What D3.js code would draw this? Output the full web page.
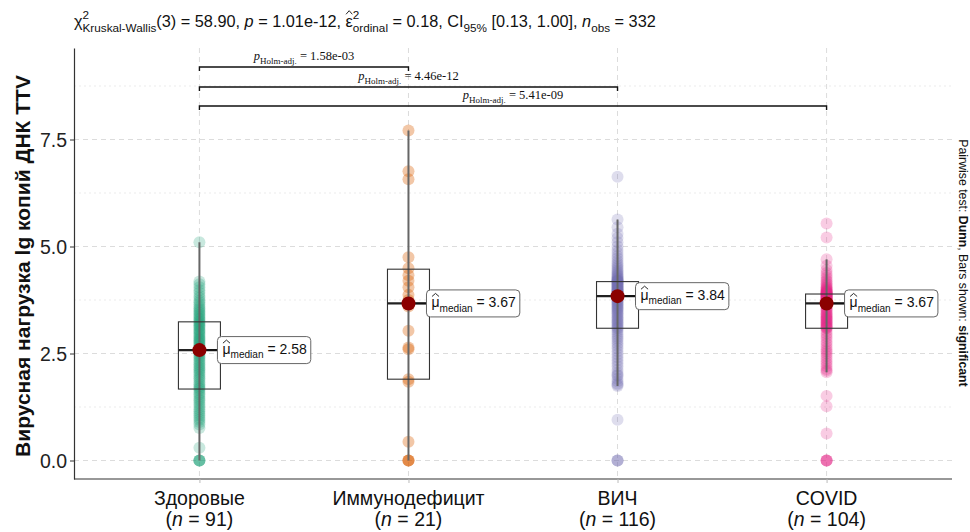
<!DOCTYPE html>
<html>
<head>
<meta charset="utf-8">
<script src="https://cdn.jsdelivr.net/npm/d3@7"></script>
<style>
  body { margin: 0; background: #fff; }
  text { font-family: "Liberation Sans", Arial, sans-serif; white-space: pre; }
</style>
</head>
<body>
<svg id="chart" width="970" height="532"></svg>
<script>
const groups = ['Здоровые', 'Иммунодефицит', 'ВИЧ', 'COVID'];
const nObs = [91, 21, 116, 104];
const colors = ['#1B9E77', '#D95F02', '#7570B3', '#E7298A'];

// box stats
const q1 = [1.67, 1.90, 3.09, 3.09];
const medians = [2.58, 3.67, 3.84, 3.67];
const q3 = [3.24, 4.47, 4.18, 3.89];
const whiskerLo = [0, 0, 1.74, 2.06];
const whiskerHi = [5.10, 7.71, 5.63, 4.70];

const healthy = [5.10, 4.18, 4.12, 4.05, 3.98, 3.92, 3.85, 3.80, 3.74, 3.70, 3.65, 3.60, 3.56, 3.52, 3.48, 3.45, 3.41, 3.38, 3.34, 3.31, 3.28, 3.25,
  3.22, 3.19, 3.16, 3.13, 3.10, 3.06, 3.03, 3.00, 2.97, 2.94, 2.90, 2.87, 2.84, 2.81, 2.78, 2.75, 2.72, 2.69, 2.66, 2.63, 2.61, 2.59,
  2.58,
  2.55, 2.52, 2.49, 2.45, 2.41, 2.37, 2.33, 2.29, 2.25, 2.21, 2.17, 2.13, 2.09, 2.05, 2.01, 1.96, 1.92, 1.88, 1.83, 1.78, 1.74, 1.70,
  1.67, 1.63, 1.58, 1.54, 1.49, 1.44, 1.40, 1.35, 1.30, 1.25, 1.20, 1.15, 1.10, 1.05, 1.00, 0.95, 0.90, 0.84, 0.76, 0.30, 0, 0, 0, 0];
const immuno = [7.71, 6.76, 6.57, 4.75, 4.49, 4.33, 4.20, 4.05, 3.87, 3.75, 3.67, 3.60, 3.03, 2.64, 2.60, 1.90, 1.84, 0.44, 0, 0, 0];
const hiv = [6.63, 5.63, 5.45, 5.30, 5.20, 5.10, 5.00, 4.92, 4.85, 4.78, 4.72, 4.66, 4.61, 4.56, 4.52, 4.48, 4.44, 4.41, 4.38, 4.35, 4.32, 4.30, 4.28, 4.26, 4.24, 4.22, 4.21, 4.20, 4.19,
  4.18, 4.17, 4.15, 4.14, 4.12, 4.11, 4.10, 4.08, 4.07, 4.05, 4.04, 4.02, 4.01, 4.00, 3.98, 3.97, 3.96, 3.95, 3.93, 3.92, 3.91, 3.90, 3.89, 3.88, 3.87, 3.86, 3.85, 3.85, 3.84,
  3.84, 3.82, 3.80, 3.78, 3.76, 3.74, 3.72, 3.70, 3.67, 3.65, 3.62, 3.60, 3.57, 3.55, 3.52, 3.50, 3.47, 3.44, 3.41, 3.38, 3.35, 3.32, 3.29, 3.26, 3.23, 3.20, 3.17, 3.14, 3.11,
  3.09, 3.05, 3.00, 2.95, 2.90, 2.85, 2.80, 2.74, 2.68, 2.62, 2.55, 2.48, 2.41, 2.34, 2.27, 2.20, 2.12, 2.05, 2.00, 1.98, 1.91, 1.85, 1.80, 1.77, 1.74, 0.95, 0, 0, 0];
const covid = [5.54, 5.21, 4.70, 4.55, 4.45, 4.38, 4.32, 4.27, 4.22, 4.18, 4.14, 4.11, 4.08, 4.05, 4.03, 4.01, 3.99, 3.97, 3.96, 3.95, 3.94, 3.93, 3.92, 3.91, 3.90, 3.89,
  3.89, 3.88, 3.87, 3.86, 3.85, 3.84, 3.83, 3.82, 3.81, 3.80, 3.79, 3.78, 3.77, 3.76, 3.75, 3.74, 3.73, 3.72, 3.71, 3.70, 3.70, 3.69, 3.69, 3.68, 3.68, 3.67,
  3.67, 3.64, 3.61, 3.58, 3.55, 3.52, 3.50, 3.47, 3.44, 3.42, 3.40, 3.37, 3.35, 3.33, 3.31, 3.29, 3.27, 3.25, 3.23, 3.21, 3.19, 3.17, 3.15, 3.13, 3.11, 3.10,
  3.09, 3.03, 2.97, 2.91, 2.85, 2.78, 2.72, 2.66, 2.60, 2.55, 2.50, 2.44, 2.38, 2.32, 2.26, 2.20, 2.14, 2.10, 2.06, 1.51, 1.27, 0.63, 0, 0, 0, 0];
const points = [healthy, immuno, hiv, covid];

const pairs = [[0, 1], [0, 2], [0, 3]];
const pairP = ['1.58e-03', '4.46e-12', '5.41e-09'];
const yTicks = [0, 2.5, 5, 7.5];
const yMinor = [1.25, 3.75, 6.25, 8.75];

const svg = d3.select('#chart');
const margin = {top: 48, right: 18, bottom: 53, left: 74};
const W = 970, H = 532;

const x = d3.scalePoint().domain(groups).range([margin.left, W - margin.right]).padding(0.6);
const y = d3.scaleLinear().domain([-0.432, 9.638]).range([H - margin.bottom, margin.top]);

// lay out text pieces with sub/superscripts one after another
const richText = (parent, parts, size, family) => {
  const g = parent.append('g');
  let cx = 0, stackW = 0;
  parts.forEach((p) => {
    const s = (p.sub || p.sup) ? size * 0.72 : size;
    const dy = p.sub ? size * 0.3 : p.sup ? -size * 0.5 : 0;
    const t = g.append('text')
      .attr('x', cx).attr('y', dy)
      .attr('font-size', s)
      .attr('font-style', p.it ? 'italic' : null)
      .attr('font-weight', p.b ? 'bold' : null)
      .attr('fill', '#111')
      .text(p.t);
    if (family) t.style('font-family', family);
    const w = t.node().getComputedTextLength();
    if (p.hat) {
      g.append('path')
        .attr('d', `M${cx + 0.5},${-s * 0.78}L${cx + w / 2},${-s * 1.0}L${cx + w - 0.5},${-s * 0.78}`)
        .attr('fill', 'none').attr('stroke', '#111').attr('stroke-width', 0.9);
    }
    if (p.stack) { stackW = w; } else { cx += Math.max(w, stackW); stackW = 0; }
  });
  return {g, width: cx};
};

// grid
const grid = svg.append('g');
grid.selectAll('.gmaj').data(yTicks).join('line')
  .attr('x1', margin.left).attr('x2', W - margin.right)
  .attr('y1', (d) => y(d)).attr('y2', (d) => y(d))
  .attr('stroke', '#dcdcdc').attr('stroke-dasharray', '5,4');
grid.selectAll('.gmin').data(yMinor).join('line')
  .attr('x1', margin.left).attr('x2', W - margin.right)
  .attr('y1', (d) => y(d)).attr('y2', (d) => y(d))
  .attr('stroke', '#e6e6e6').attr('stroke-width', 0.8).attr('stroke-dasharray', '2,3');
grid.selectAll('.gv').data(groups).join('line')
  .attr('x1', (d) => x(d)).attr('x2', (d) => x(d))
  .attr('y1', margin.top).attr('y2', H - margin.bottom)
  .attr('stroke', '#dcdcdc').attr('stroke-dasharray', '5,4');

// points
groups.forEach((gname, i) => {
  svg.append('g').selectAll('circle').data(points[i]).join('circle')
    .attr('cx', x(gname))
    .attr('cy', (d) => y(d))
    .attr('r', 6)
    .attr('fill', colors[i])
    .attr('fill-opacity', i === 1 ? 0.35 : 0.24);
});

// boxes
const bw = 42;
groups.forEach((gname, i) => {
  const cx = x(gname);
  const g = svg.append('g');
  g.append('line')
    .attr('x1', cx).attr('x2', cx)
    .attr('y1', y(whiskerLo[i])).attr('y2', y(whiskerHi[i]))
    .attr('stroke', '#666').attr('stroke-width', 2);
  g.append('rect')
    .attr('x', cx - bw / 2).attr('width', bw)
    .attr('y', y(q3[i])).attr('height', y(q1[i]) - y(q3[i]))
    .attr('fill', 'none').attr('stroke', '#333').attr('stroke-width', 1.1);
  g.append('line')
    .attr('x1', cx - bw / 2).attr('x2', cx + bw / 2)
    .attr('y1', y(medians[i])).attr('y2', y(medians[i]))
    .attr('stroke', '#222').attr('stroke-width', 2.2);
});

// median dots + labels
groups.forEach((gname, i) => {
  const cx = x(gname);
  const cy = y(medians[i]);
  const lx = cx + 18;
  svg.append('line')
    .attr('x1', cx).attr('x2', lx).attr('y1', cy).attr('y2', cy)
    .attr('stroke', '#111').attr('stroke-width', 1.6);
  svg.append('circle')
    .attr('cx', cx).attr('cy', cy).attr('r', 7)
    .attr('fill', '#8B0000');
  const lab = svg.append('g');
  const bg = lab.append('rect');
  const rt = richText(lab, [
    {t: 'μ', hat: true},
    {t: 'median', sub: true},
    {t: ' = ' + medians[i].toFixed(2)}
  ], 14);
  const h = 27;
  rt.g.attr('transform', `translate(${lx + 5},${cy + 4})`);
  bg.attr('x', lx).attr('y', cy - h / 2).attr('width', rt.width + 9).attr('height', h)
    .attr('rx', 4).attr('fill', '#fff').attr('stroke', '#666').attr('stroke-width', 1);
});

// axes
const yAxis = svg.append('g')
  .attr('transform', `translate(${margin.left},0)`)
  .call(d3.axisLeft(y).tickValues(yTicks).tickFormat(d3.format('.1f')).tickSize(4).tickSizeOuter(0));
yAxis.select('.domain').attr('stroke', '#333').attr('stroke-width', 1.2);
yAxis.selectAll('.tick line').attr('stroke', '#333');
yAxis.selectAll('.tick text').attr('font-size', 19.5).attr('fill', '#222')
  .style('font-family', '"Liberation Sans", Arial, sans-serif').attr('x', -7).attr('dy', '0.36em');

const xAxis = svg.append('g')
  .attr('transform', `translate(0,${H - margin.bottom})`)
  .call(d3.axisBottom(x).tickSize(4).tickSizeOuter(0).tickFormat(''));
xAxis.select('.domain').attr('stroke', '#333').attr('stroke-width', 1.2)
  .attr('d', `M${margin.left},0H${W - margin.right}`);
xAxis.selectAll('.tick line').attr('stroke', '#bbb');

groups.forEach((gname, i) => {
  svg.append('text')
    .attr('x', x(gname)).attr('y', 505)
    .attr('text-anchor', 'middle').attr('font-size', 19.5).attr('fill', '#111')
    .text(gname);
  const rt = richText(svg, [
    {t: '('}, {t: 'n', it: true}, {t: ' = ' + nObs[i] + ')'}
  ], 19.5);
  rt.g.attr('transform', `translate(${x(gname) - rt.width / 2},526)`);
});

svg.append('text')
  .attr('transform', `translate(30,266) rotate(-90)`)
  .attr('text-anchor', 'middle').attr('font-size', 21).attr('font-weight', 'bold').attr('fill', '#111')
  .text('Вирусная нагрузка lg копий ДНК TTV');

// significance brackets
const brY = [67, 87, 106];
pairs.forEach((pr, k) => {
  const x1 = x(groups[pr[0]]), x2 = x(groups[pr[1]]);
  svg.append('path')
    .attr('d', `M${x1},${brY[k] + 4}V${brY[k]}H${x2}V${brY[k] + 4}`)
    .attr('fill', 'none').attr('stroke', '#111').attr('stroke-width', 1.4);
  const rt = richText(svg, [
    {t: 'p', it: true},
    {t: 'Holm-adj.', sub: true},
    {t: ' = ' + pairP[k]}
  ], 12.5, '"Liberation Serif", "Times New Roman", serif');
  rt.g.attr('transform', `translate(${(x1 + x2) / 2 - rt.width / 2},${brY[k] - 7})`);
});

// subtitle with test statistics
const title = richText(svg, [
  {t: 'χ'},
  {t: '2', sup: true, stack: true},
  {t: 'Kruskal-Wallis', sub: true},
  {t: '(3) = 58.90, '},
  {t: 'p', it: true},
  {t: ' = 1.01e-12, '},
  {t: 'ε', hat: true},
  {t: '2', sup: true, stack: true},
  {t: 'ordinal', sub: true},
  {t: ' = 0.18, CI'},
  {t: '95%', sub: true},
  {t: ' [0.13, 1.00], '},
  {t: 'n', it: true},
  {t: 'obs', sub: true},
  {t: ' = 332'}
], 16.3);
title.g.attr('transform', `translate(74,27)`);

// caption on the right
const cap = richText(svg, [
  {t: 'Pairwise test: '},
  {t: 'Dunn', b: true},
  {t: ', Bars shown: '},
  {t: 'significant', b: true}
], 12.3);
cap.g.attr('transform', `translate(959,${263 - cap.width / 2}) rotate(90)`);
</script>
</body>
</html>
